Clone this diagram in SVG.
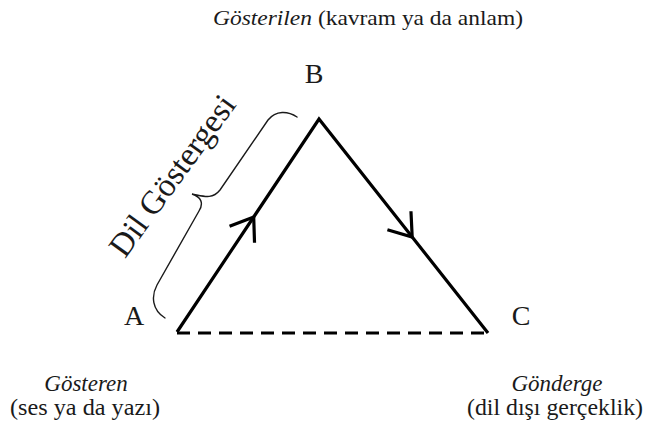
<svg xmlns="http://www.w3.org/2000/svg" xmlns:xlink="http://www.w3.org/1999/xlink" width="645" height="432" viewBox="0 0 645 432">
  <style>
    .t { font-family: "Liberation Serif", "DejaVu Serif", serif; fill: #1a1a1a; }
    .it { font-style: italic; }
    .edge { fill: none; stroke: #000; stroke-width: 3.2; }
    .chev { fill: none; stroke: #000; stroke-width: 3.2; stroke-linejoin: miter; stroke-linecap: butt; }
    .brace { fill: none; stroke: #1a1a1a; stroke-width: 1.4; stroke-linecap: round; }
  </style>
  <defs>
    <path id="chev" class="chev" d="M -21,-15 L 0,0 L -21,15"/>
  </defs>
  <rect width="645" height="432" fill="#fff"/>

  <g id="connectors">
    <polyline class="edge" points="177,332 319,119 488,333" stroke-linejoin="miter" stroke-miterlimit="10"/>
    <line class="edge" x1="177" y1="333" x2="488" y2="333" stroke-dasharray="13 8"/>
    <use xlink:href="#chev" href="#chev" transform="translate(253.7,217) rotate(-56.3)"/>
    <use xlink:href="#chev" href="#chev" transform="translate(412.2,237) rotate(51.7)"/>
  </g>

  <g id="node-B">
    <text class="t" x="314" y="83" font-size="28" text-anchor="middle" font-family="Liberation Serif, DejaVu Serif, serif">B</text>
    <text class="t" x="368" y="25" font-size="22" text-anchor="middle" textLength="310" lengthAdjust="spacingAndGlyphs" font-family="Liberation Serif, DejaVu Serif, serif"><tspan class="it">Gösterilen</tspan> (kavram ya da anlam)</text>
  </g>

  <g id="node-A">
    <text class="t" x="134" y="325" font-size="28" text-anchor="middle" font-family="Liberation Serif, DejaVu Serif, serif">A</text>
    <text class="t it" x="86" y="391" font-size="23" text-anchor="middle" font-family="Liberation Serif, DejaVu Serif, serif">Gösteren</text>
    <text class="t" x="85" y="415" font-size="23" text-anchor="middle" textLength="150" lengthAdjust="spacingAndGlyphs" font-family="Liberation Serif, DejaVu Serif, serif">(ses ya da yazı)</text>
  </g>

  <g id="node-C">
    <text class="t" x="521" y="325" font-size="28" text-anchor="middle" font-family="Liberation Serif, DejaVu Serif, serif">C</text>
    <text class="t it" x="557" y="391" font-size="23" text-anchor="middle" font-family="Liberation Serif, DejaVu Serif, serif">Gönderge</text>
    <text class="t" x="555" y="415" font-size="23" text-anchor="middle" textLength="176" lengthAdjust="spacingAndGlyphs" font-family="Liberation Serif, DejaVu Serif, serif">(dil dışı gerçeklik)</text>
  </g>

  <g id="brace-label">
    <path class="brace" d="M 297,117 C 288,111 276,110 268,120 L 220,190 C 212,200 203,196 192,194 C 201,197 204,203 199,211 L 157,285 C 151,296 152,310 165,318"/>
    <text class="t" x="0" y="0" font-size="33" text-anchor="middle" transform="translate(181,182) rotate(-54)" font-family="Liberation Serif, DejaVu Serif, serif">Dil Göstergesi</text>
  </g>
</svg>
